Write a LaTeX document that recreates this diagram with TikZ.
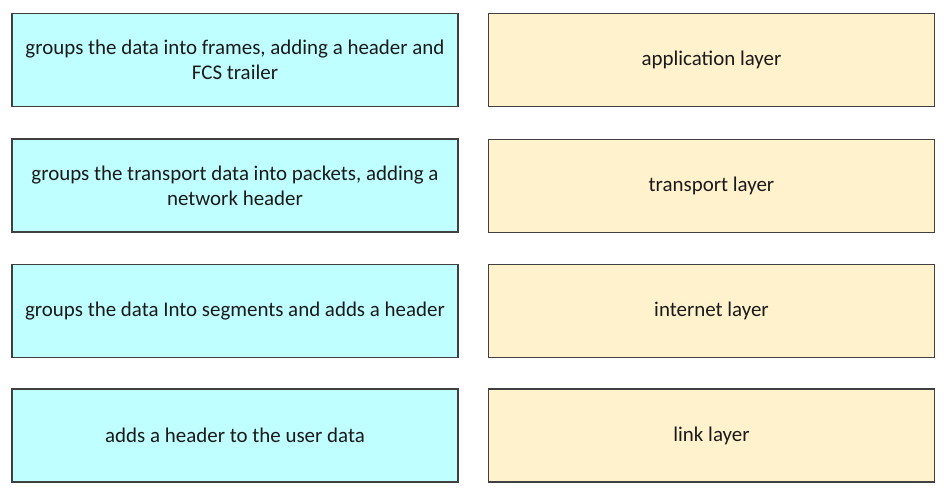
\documentclass[tikz,border=0pt]{standalone}
\usepackage{fontspec}
\setmainfont{Carlito}
\definecolor{lcyan}{RGB}{192,255,255}
\definecolor{lbeige}{RGB}{255,242,204}
\definecolor{bord}{RGB}{64,64,64}
\definecolor{txt}{RGB}{26,26,26}
\begin{document}
\begin{tikzpicture}[x=0.75pt,y=-0.75pt,
  box/.style={draw=bord,line width=1.2pt,minimum width=446*0.75pt,minimum height=93*0.75pt,
    inner sep=0pt,align=center,text=txt,font=\fontsize{15.7pt}{18.75pt}\selectfont},
  descbox/.style={box,fill=lcyan},
  layerbox/.style={box,fill=lbeige}]
\useasboundingbox (0,0) rectangle (952,497);
\node[descbox] (d1) at (235,60) {groups the data into frames, adding a header and\\FCS trailer};
\node[descbox] (d2) at (235,185.5) {groups the transport data into packets, adding a\\network header};
\node[descbox] (d3) at (235,311) {groups the data Into segments and adds a header};
\node[descbox] (d4) at (235,435.5) {adds a header to the user data};
\node[layerbox] (l1) at (711.5,60) {application layer};
\node[layerbox] (l2) at (711.5,186) {transport layer};
\node[layerbox] (l3) at (711.5,311) {internet layer};
\node[layerbox] (l4) at (711.5,435.5) {link layer};
\end{tikzpicture}
\end{document}
